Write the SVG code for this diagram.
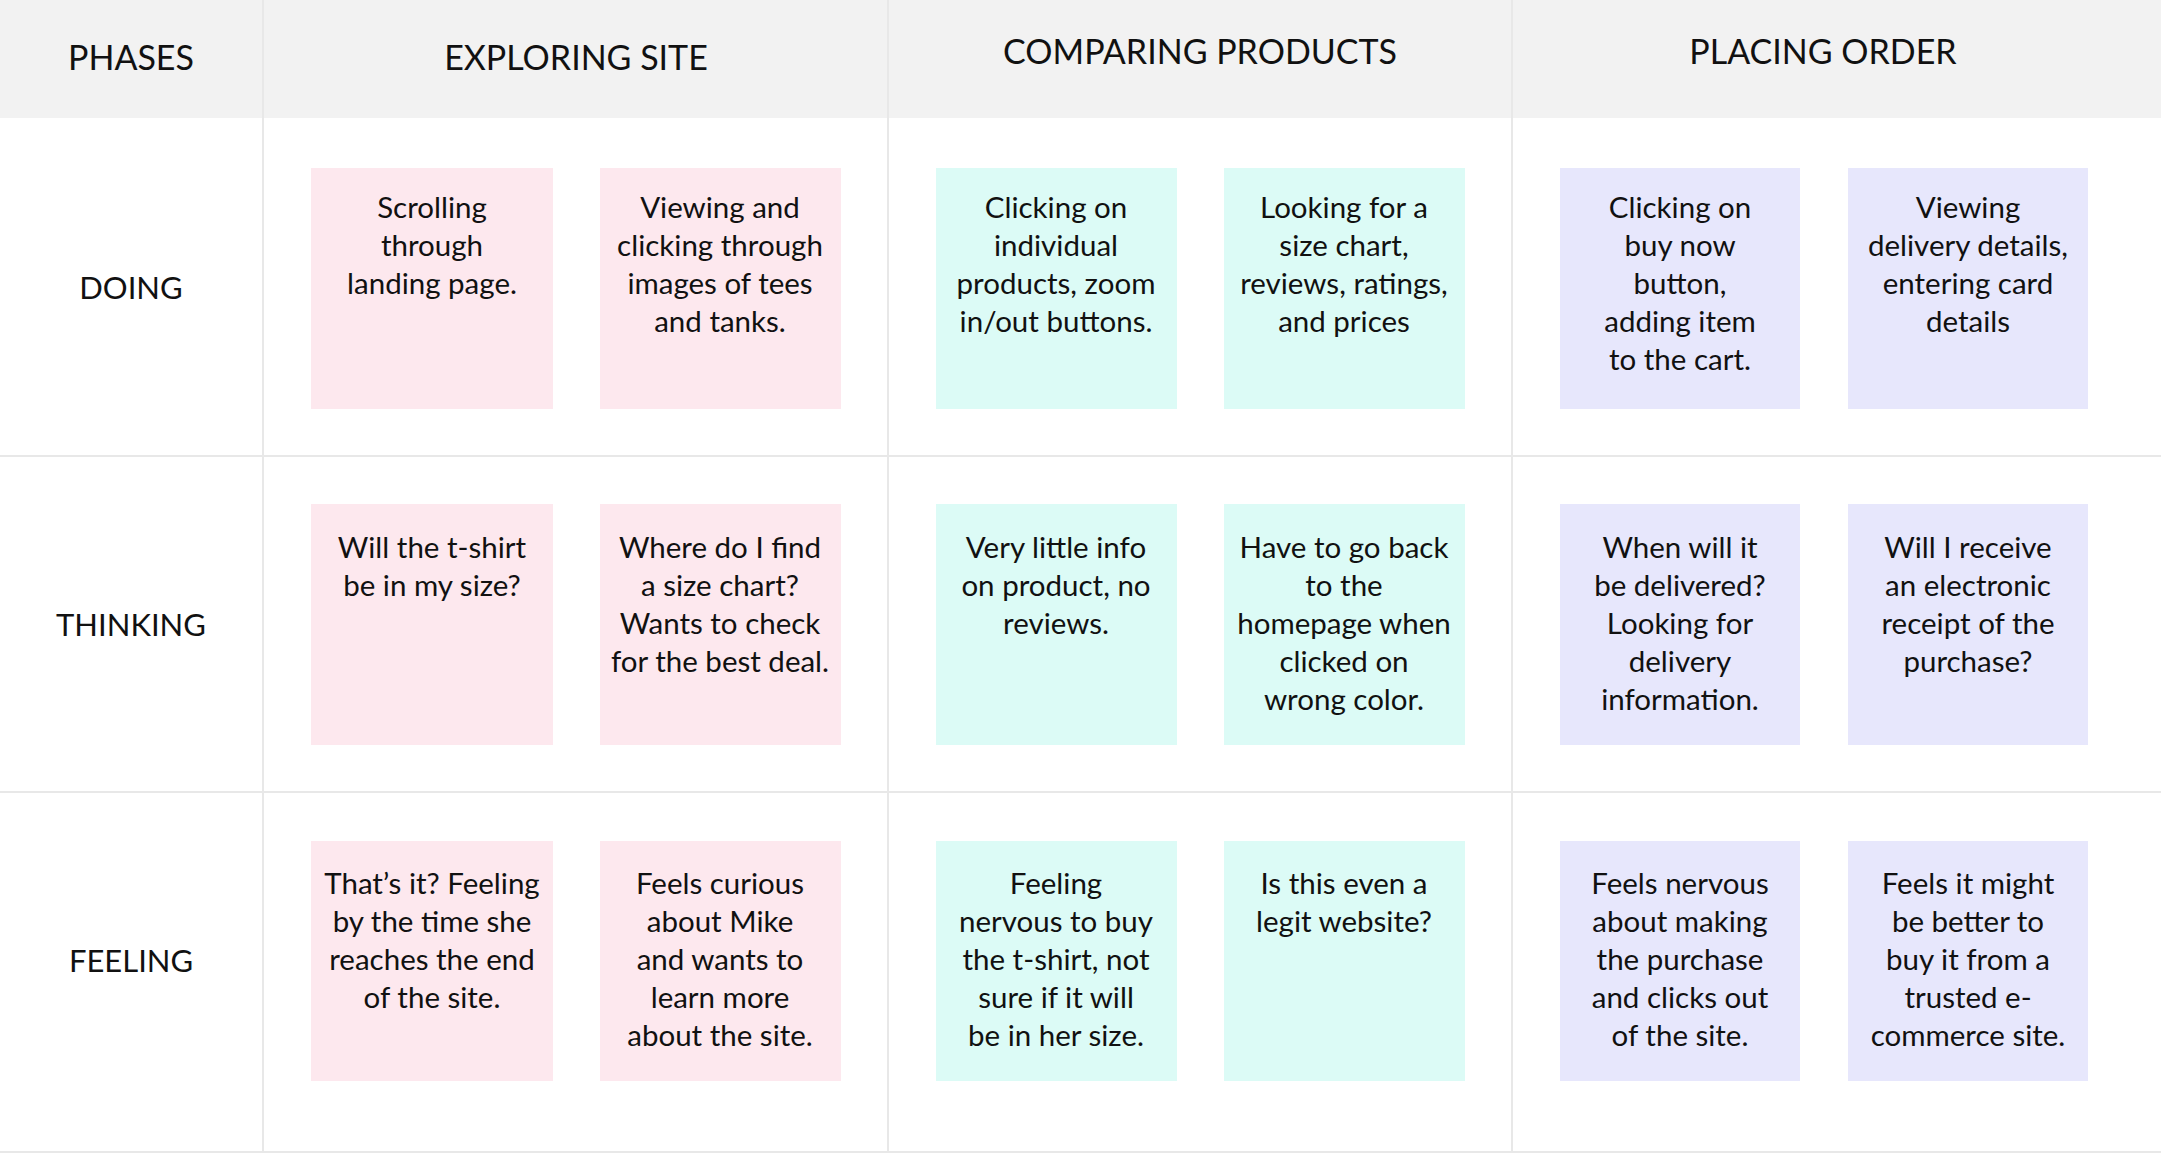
<svg xmlns="http://www.w3.org/2000/svg" width="2161" height="1153" viewBox="0 0 2161 1153">
<style>
text{font-family:Lato,"Open Sans",sans-serif;fill:#111;text-anchor:middle}
.h{font-size:34px}
.r{font-size:31px}
.n{font-size:29.5px}
.p{fill:#fde8ee}.m{fill:#dcfbf6}.l{fill:#e7e7fc}
.g{stroke:#e8e8e8;stroke-width:2;fill:none}
</style>
<rect width="2161" height="1153" fill="#fff"/>
<rect width="2161" height="118" fill="#f2f2f2"/>
<g id="grid">
<path class="g" d="M263 0V1153M888 0V1153M1512 0V1153M0 456H2161M0 792H2161M0 1152H2161"/>
</g>
<g id="headers">
<text class="h" x="131" y="70">PHASES</text>
<text class="h" x="576" y="70">EXPLORING SITE</text>
<text class="h" x="1200" y="64">COMPARING PRODUCTS</text>
<text class="h" x="1823" y="64">PLACING ORDER</text>
<text class="r" x="131" y="299">DOING</text>
<text class="r" x="131" y="636">THINKING</text>
<text class="r" x="131" y="972">FEELING</text>
</g>
<g id="n11"><rect class="p" x="311" y="168" width="242" height="241"/><text class="n" x="432" y="218">Scrolling<tspan x="432" dy="38">through</tspan><tspan x="432" dy="38">landing page.</tspan></text></g>
<g id="n12"><rect class="p" x="600" y="168" width="241" height="241"/><text class="n" x="720" y="218">Viewing and<tspan x="720" dy="38">clicking through</tspan><tspan x="720" dy="38">images of tees</tspan><tspan x="720" dy="38">and tanks.</tspan></text></g>
<g id="n13"><rect class="m" x="936" y="168" width="241" height="241"/><text class="n" x="1056" y="218">Clicking on<tspan x="1056" dy="38">individual</tspan><tspan x="1056" dy="38">products, zoom</tspan><tspan x="1056" dy="38">in/out buttons.</tspan></text></g>
<g id="n14"><rect class="m" x="1224" y="168" width="241" height="241"/><text class="n" x="1344" y="218">Looking for a<tspan x="1344" dy="38">size chart,</tspan><tspan x="1344" dy="38">reviews, ratings,</tspan><tspan x="1344" dy="38">and prices</tspan></text></g>
<g id="n15"><rect class="l" x="1560" y="168" width="240" height="241"/><text class="n" x="1680" y="218">Clicking on<tspan x="1680" dy="38">buy now</tspan><tspan x="1680" dy="38">button,</tspan><tspan x="1680" dy="38">adding item</tspan><tspan x="1680" dy="38">to the cart.</tspan></text></g>
<g id="n16"><rect class="l" x="1848" y="168" width="240" height="241"/><text class="n" x="1968" y="218">Viewing<tspan x="1968" dy="38">delivery details,</tspan><tspan x="1968" dy="38">entering card</tspan><tspan x="1968" dy="38">details</tspan></text></g>

<g id="n21"><rect class="p" x="311" y="504" width="242" height="241"/><text class="n" x="432" y="558">Will the t-shirt<tspan x="432" dy="38">be in my size?</tspan></text></g>
<g id="n22"><rect class="p" x="600" y="504" width="241" height="241"/><text class="n" x="720" y="558">Where do I find<tspan x="720" dy="38">a size chart?</tspan><tspan x="720" dy="38">Wants to check</tspan><tspan x="720" dy="38">for the best deal.</tspan></text></g>
<g id="n23"><rect class="m" x="936" y="504" width="241" height="241"/><text class="n" x="1056" y="558">Very little info<tspan x="1056" dy="38">on product, no</tspan><tspan x="1056" dy="38">reviews.</tspan></text></g>
<g id="n24"><rect class="m" x="1224" y="504" width="241" height="241"/><text class="n" x="1344" y="558">Have to go back<tspan x="1344" dy="38">to the</tspan><tspan x="1344" dy="38">homepage when</tspan><tspan x="1344" dy="38">clicked on</tspan><tspan x="1344" dy="38">wrong color.</tspan></text></g>
<g id="n25"><rect class="l" x="1560" y="504" width="240" height="241"/><text class="n" x="1680" y="558">When will it<tspan x="1680" dy="38">be delivered?</tspan><tspan x="1680" dy="38">Looking for</tspan><tspan x="1680" dy="38">delivery</tspan><tspan x="1680" dy="38">information.</tspan></text></g>
<g id="n26"><rect class="l" x="1848" y="504" width="240" height="241"/><text class="n" x="1968" y="558">Will I receive<tspan x="1968" dy="38">an electronic</tspan><tspan x="1968" dy="38">receipt of the</tspan><tspan x="1968" dy="38">purchase?</tspan></text></g>

<g id="n31"><rect class="p" x="311" y="841" width="242" height="240"/><text class="n" x="432" y="894">That’s it? Feeling<tspan x="432" dy="38">by the time she</tspan><tspan x="432" dy="38">reaches the end</tspan><tspan x="432" dy="38">of the site.</tspan></text></g>
<g id="n32"><rect class="p" x="600" y="841" width="241" height="240"/><text class="n" x="720" y="894">Feels curious<tspan x="720" dy="38">about Mike</tspan><tspan x="720" dy="38">and wants to</tspan><tspan x="720" dy="38">learn more</tspan><tspan x="720" dy="38">about the site.</tspan></text></g>
<g id="n33"><rect class="m" x="936" y="841" width="241" height="240"/><text class="n" x="1056" y="894">Feeling<tspan x="1056" dy="38">nervous to buy</tspan><tspan x="1056" dy="38">the t-shirt, not</tspan><tspan x="1056" dy="38">sure if it will</tspan><tspan x="1056" dy="38">be in her size.</tspan></text></g>
<g id="n34"><rect class="m" x="1224" y="841" width="241" height="240"/><text class="n" x="1344" y="894">Is this even a<tspan x="1344" dy="38">legit website?</tspan></text></g>
<g id="n35"><rect class="l" x="1560" y="841" width="240" height="240"/><text class="n" x="1680" y="894">Feels nervous<tspan x="1680" dy="38">about making</tspan><tspan x="1680" dy="38">the purchase</tspan><tspan x="1680" dy="38">and clicks out</tspan><tspan x="1680" dy="38">of the site.</tspan></text></g>
<g id="n36"><rect class="l" x="1848" y="841" width="240" height="240"/><text class="n" x="1968" y="894">Feels it might<tspan x="1968" dy="38">be better to</tspan><tspan x="1968" dy="38">buy it from a</tspan><tspan x="1968" dy="38">trusted e-</tspan><tspan x="1968" dy="38">commerce site.</tspan></text></g>
<g id="connectors"/>
</svg>
